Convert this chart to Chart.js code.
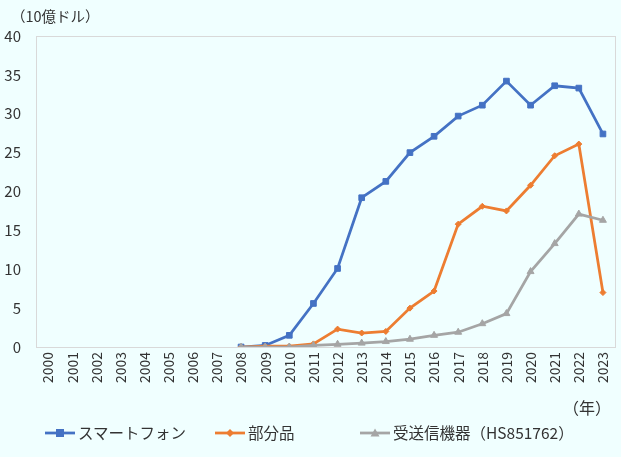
<!DOCTYPE html>
<html>
<head>
<meta charset="utf-8">
<script src="https://cdn.jsdelivr.net/npm/chart.js@4"></script>
<style>
  html, body { margin: 0; padding: 0; background: #f0ffff; }
  body { width: 621px; height: 457px; position: relative; overflow: hidden;
         font-family: "Noto Sans CJK JP", "Noto Sans", sans-serif; color: #333; }
  #chart { position: absolute; left: 0; top: 0; }
  .lbl { position: absolute; white-space: nowrap; line-height: 1; }
  .legend { position: absolute; top: 425px; left: 0; font-size: 15.5px; line-height: 1; }
  .legend-item { position: absolute; display: flex; align-items: center; white-space: nowrap; }
  .legend-item svg { margin-right: 3px; }
</style>
</head>
<body>
<canvas id="chart" width="621" height="457"></canvas>
<div class="lbl" style="left:11px; top:9px; font-size:14.5px;">（10億ドル）</div>
<div class="lbl" style="left:563px; top:399px; font-size:16px;">（年）</div>
<div class="legend" id="legend"></div>
<script>
const years = ['2000', '2001', '2002', '2003', '2004', '2005', '2006', '2007', '2008', '2009', '2010', '2011',
  '2012', '2013', '2014', '2015', '2016', '2017', '2018', '2019', '2020', '2021', '2022', '2023'];
const smartphone = [null, null, null, null, null, null, null, null, 0, 0.2, 1.5, 5.6,
  10.1, 19.2, 21.3, 25.0, 27.1, 29.7, 31.1, 34.2, 31.1, 33.6, 33.3, 27.4];
const parts = [null, null, null, null, null, null, null, null, 0, 0.1, 0.1, 0.4,
  2.3, 1.8, 2.0, 5.0, 7.2, 15.8, 18.1, 17.5, 20.8, 24.6, 26.1, 7.0];
const transceivers = [null, null, null, null, null, null, null, null, 0, 0, 0, 0.2,
  0.35, 0.5, 0.7, 1.0, 1.5, 1.9, 3.0, 4.3, 9.7, 13.3, 17.1, 16.3];
const yTicks = [0, 5, 10, 15, 20, 25, 30, 35, 40];

const series = [
  { label: 'スマートフォン', data: smartphone, color: '#4472c4', style: 'rect', radius: 4, order: 2 },
  { label: '部分品', data: parts, color: '#ed7d31', style: 'rectRot', radius: 3, order: 1 },
  { label: '受送信機器（HS851762）', data: transceivers, color: '#a5a5a5', style: 'triangle', radius: 4, order: 0 },
];

const boxPlugin = {
  id: 'box',
  beforeDraw(chart) {
    const { ctx, chartArea: a } = chart;
    ctx.save();
    ctx.fillStyle = '#f0ffff';
    ctx.fillRect(0, 0, chart.width, chart.height);
    ctx.strokeStyle = '#d9d9d9';
    ctx.lineWidth = 1;
    ctx.strokeRect(Math.round(a.left) + 0.5, Math.round(a.top) + 0.5, Math.round(a.width), Math.round(a.height));
    ctx.restore();
  }
};

new Chart(document.getElementById('chart').getContext('2d'), {
  type: 'line',
  data: {
    labels: years,
    datasets: series.map(s => ({
      label: s.label,
      data: s.data,
      borderColor: s.color,
      backgroundColor: s.color,
      borderWidth: 2.75,
      pointStyle: s.style,
      pointRadius: s.radius,
      pointBorderWidth: 1,
      tension: 0,
      order: s.order,
    })),
  },
  options: {
    responsive: false,
    animation: false,
    layout: { padding: { top: 36, right: 6, bottom: 60, left: 0 } },
    plugins: { legend: { display: false }, tooltip: { enabled: false } },
    scales: {
      x: {
        offset: true,
        grid: { display: false, drawTicks: false },
        border: { display: false },
        ticks: { color: '#333', font: { family: 'Noto Sans CJK JP', size: 14 }, maxRotation: 90, minRotation: 90, autoSkip: false, padding: 5 },
        afterFit: sc => { sc.height = 50; sc.paddingLeft = 0; sc.paddingRight = 0; },
      },
      y: {
        min: 0, max: 40,
        grid: { display: false, drawTicks: false },
        border: { display: false },
        afterBuildTicks: sc => { sc.ticks = yTicks.map(v => ({ value: v })); },
        ticks: { color: '#333', font: { family: 'Noto Sans CJK JP', size: 15 }, padding: 15 },
        afterFit: sc => { sc.width = 36; },
      },
    },
  },
  plugins: [boxPlugin],
});

// legend
const legendPos = [45, 215, 360];
const marker = (s) => {
  const c = s.color;
  if (s.style === 'rect') return `<rect x="11" y="2" width="8" height="8" fill="${c}"/>`;
  if (s.style === 'rectRot') return `<polygon points="15,2 19,6 15,10 11,6" fill="${c}"/>`;
  return `<polygon points="15,1.5 19.5,9.5 10.5,9.5" fill="${c}"/>`;
};
document.getElementById('legend').innerHTML = series.map((s, i) => `
  <div class="legend-item" style="left:${legendPos[i]}px">
    <svg width="30" height="12"><line x1="0" y1="6" x2="30" y2="6" stroke="${s.color}" stroke-width="2.75"/>${marker(s)}</svg>
    <span>${s.label}</span>
  </div>`).join('');
</script>
</body>
</html>
